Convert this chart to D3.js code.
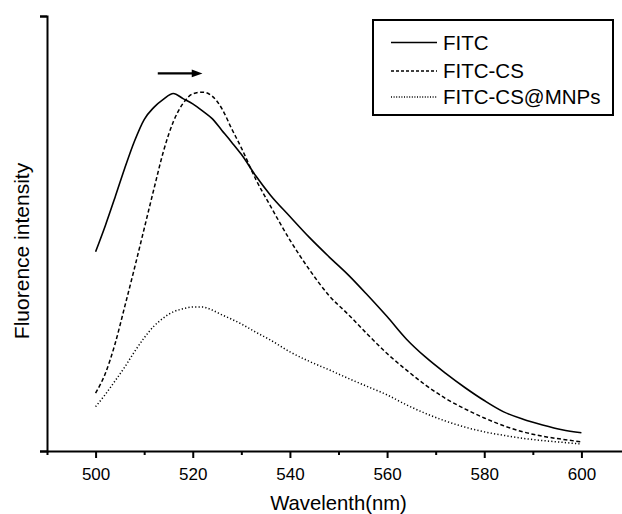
<!DOCTYPE html>
<html lang="en">
  <head>
    <meta charset="UTF-8" />
    <title>Fluorescence spectra</title>
    <script src="https://d3js.org/d3.v7.min.js"></script>
    <style>
      body { margin: 0; background: #fff; }
      svg { display: block; font-family: "Liberation Sans", Arial, sans-serif; }
    </style>
  </head>
  <body>
    <div id="chart"></div>

    <script>
      // wavelengths (nm) shared by all three spectra
      const wavelength = [
        500, 502, 504, 506, 508, 510, 512, 514, 516, 518, 520, 522, 524, 526,
        528, 530, 533, 536, 540, 544, 548, 552, 556, 560, 564, 568, 572, 576,
        580, 584, 588, 592, 596, 600,
      ];

      // intensities (arbitrary units, axis 0..1000)
      const fitc = [
        458, 518, 583, 650, 712, 762, 790, 809, 822, 810, 798, 782, 764, 737,
        710, 682, 632, 588, 539, 491, 447, 405, 358, 309, 257, 215, 179, 146,
        116, 90, 73, 60, 49, 42,
      ];
      const fitcCs = [
        133, 178, 246, 332, 420, 511, 602, 690, 757, 799, 821, 825, 816, 787,
        741, 697, 624, 563, 485, 417, 358, 314, 268, 224, 186, 151, 121, 97,
        76, 58, 44, 34, 27, 21,
      ];
      const fitcCsMnps = [
        102, 130, 161, 193, 228, 260, 287, 306, 320, 327, 331, 331, 324, 313,
        303, 292, 273, 255, 228, 206, 187, 167, 148, 129, 106, 86, 69, 55,
        44, 36, 29, 24, 20, 16,
      ];

      const seriesNames = ["FITC", "FITC-CS", "FITC-CS@MNPs"];
      const seriesValues = [fitc, fitcCs, fitcCsMnps];
      const dashes = [null, "4,2.5", "1.2,2.2"];
      const legendDashes = [null, "3,2", "1,1.6"];

      const xTicks = [500, 520, 540, 560, 580, 600];
      const xMinorTicks = [490, 510, 530, 550, 570, 590];

      const width = 622,
        height = 514;

      const svg = d3
        .select("#chart")
        .append("svg")
        .attr("width", width)
        .attr("height", height);

      svg.append("rect").attr("width", width).attr("height", height).attr("fill", "#fff");

      // scales
      const x = d3.scaleLinear().domain([490, 610]).range([47, 630]);
      const y = d3.scaleLinear().domain([0, 1000]).range([451, 16]);

      // X axis: long major ticks with labels, short minor ticks
      const xAxis = svg.append("g").attr("transform", `translate(0,${y(0)})`);
      xAxis
        .call(d3.axisBottom(x).tickValues(xTicks).tickSize(7).tickSizeOuter(0).tickPadding(10))
        .call((g) => g.select(".domain").attr("stroke-width", 2))
        .call((g) => g.selectAll(".tick line").attr("stroke-width", 2))
        .call((g) =>
          g.selectAll(".tick text").attr("font-size", 17).attr("font-family", "Liberation Sans, Arial, sans-serif")
        );
      svg
        .append("g")
        .attr("transform", `translate(0,${y(0)})`)
        .call(d3.axisBottom(x).tickValues(xMinorTicks).tickSize(4).tickFormat(""))
        .call((g) => g.select(".domain").remove())
        .call((g) => g.selectAll(".tick line").attr("stroke-width", 2));

      // Y axis: no labels, ticks at both ends only
      svg
        .append("g")
        .attr("transform", `translate(${x(490)},0)`)
        .call(d3.axisLeft(y).tickValues([0, 1000]).tickSize(7).tickFormat(""))
        .call((g) => g.select(".domain").attr("stroke-width", 2))
        .call((g) => g.selectAll(".tick line").attr("stroke-width", 2));

      // axis titles
      svg
        .append("text")
        .attr("x", (x(500) + x(600)) / 2)
        .attr("y", 510)
        .attr("text-anchor", "middle")
        .attr("font-size", 20.3)
        .text("Wavelenth(nm)");

      svg
        .append("text")
        .attr("transform", `translate(29,${251}) rotate(-90)`)
        .attr("text-anchor", "middle")
        .attr("font-size", 21)
        .text("Fluorence intensity");

      // spectra
      const line = d3
        .line()
        .x((d, i) => x(wavelength[i]))
        .y((d) => y(d))
        .curve(d3.curveMonotoneX);

      seriesValues.forEach((vals, i) => {
        svg
          .append("path")
          .datum(vals)
          .attr("fill", "none")
          .attr("stroke", "#000")
          .attr("stroke-width", i === 0 ? 1.6 : 1.5)
          .attr("stroke-dasharray", dashes[i])
          .attr("d", line);
      });

      // red-shift arrow above the peaks
      const ay = y(868);
      svg
        .append("line")
        .attr("x1", x(512.8))
        .attr("x2", x(520.5))
        .attr("y1", ay)
        .attr("y2", ay)
        .attr("stroke", "#000")
        .attr("stroke-width", 2.2);
      svg
        .append("path")
        .attr("d", `M${x(522)},${ay} L${x(519.8)},${ay - 3.8} L${x(519.8)},${ay + 3.8} Z`)
        .attr("fill", "#000");

      // legend
      const legend = svg.append("g");
      legend
        .append("rect")
        .attr("x", 373)
        .attr("y", 20)
        .attr("width", 240)
        .attr("height", 95)
        .attr("fill", "#fff")
        .attr("stroke", "#000")
        .attr("stroke-width", 2);

      const rows = [42.5, 71, 97];
      seriesNames.forEach((name, i) => {
        legend
          .append("line")
          .attr("x1", 391)
          .attr("x2", 437)
          .attr("y1", rows[i])
          .attr("y2", rows[i])
          .attr("stroke", "#000")
          .attr("stroke-width", 1.6)
          .attr("stroke-dasharray", legendDashes[i]);
        legend
          .append("text")
          .attr("x", 443)
          .attr("y", rows[i])
          .attr("dy", "0.35em")
          .attr("font-size", 20.5)
          .text(name);
      });
    </script>
  </body>
</html>
